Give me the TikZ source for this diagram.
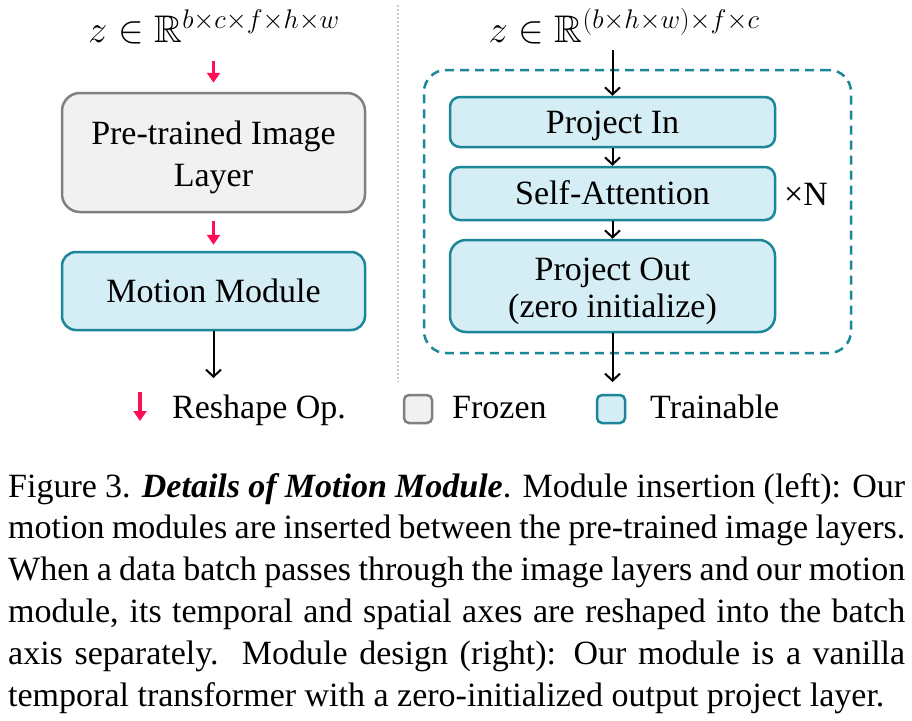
\documentclass[tikz,border=0pt]{standalone}
\usepackage{fix-cm}
\usepackage{amssymb}
\usepackage{fontspec}
\setmainfont{Liberation Serif}
\usetikzlibrary{arrows.meta}
\definecolor{frozenline}{HTML}{808080}
\definecolor{frozenfill}{HTML}{F1F1F1}
\definecolor{trainline}{HTML}{1B8798}
\definecolor{trainfill}{HTML}{D5EDF4}
\definecolor{reshapered}{HTML}{FF0D55}
\definecolor{sepgray}{HTML}{C8C8C8}
\newcommand{\tallstrut}{\rule{0pt}{34pt}}
\begin{document}
\begin{tikzpicture}[x=1pt,y=-1pt,
  big/.style={font=\fontsize{34}{42}\selectfont, inner sep=0pt},
  frozenbox/.style={draw=frozenline, fill=frozenfill, line width=2.5pt, rounded corners=18pt, big, align=center},
  trainbox/.style={draw=trainline, fill=trainfill, line width=2.5pt, rounded corners=14pt, big, align=center},
  oneline/.style={text height=29.5pt, text depth=7pt},
  reshape/.style={draw=reshapered, line width=3.5pt, -{Triangle[width=13pt,length=10pt]}},
  flow/.style={line width=2pt, -{Straight Barb[length=7pt,width=15pt,line width=2pt]}},
  capline/.style={anchor=base west, inner sep=0pt, font=\fontsize{34}{42}\selectfont},
  mathlbl/.style={anchor=base, inner sep=0pt, font=\fontsize{38.5}{44}\selectfont},
]
\useasboundingbox (0,0) rectangle (912,720);
\fill[white] (0,0) rectangle (912,720);

% separator
\draw[sepgray, line width=2pt, dotted] (398,5) -- (398,382);

% left column
\node[mathlbl] (zl) at (214,42)
  {$z\in\mathbb{R}^{b\times c\times f\times h\times w}$};
\node[frozenbox, minimum width=303pt, minimum height=119pt] (pre) at (213.5,152.5)
  {\tallstrut Pre-trained Image\\Layer};
\node[trainbox, oneline, minimum width=303pt, minimum height=78pt] (motion) at (213.5,291)
  {Motion Module};
\coordinate (mout) at (213.5,378);
\draw[reshape] ([yshift=31pt]pre.north) -- ([yshift=9pt]pre.north);
\draw[reshape] ([yshift=-8pt]pre.south) -- ([yshift=6pt]motion.north);
\draw[flow] (motion.south) -- (mout);

% right column
\node[mathlbl] (zr) at (624,42)
  {$z\in\mathbb{R}^{(b\times h\times w)\times f\times c}$};
\node[draw=trainline, line width=2.5pt, dash pattern=on 9pt off 6pt, rounded corners=22pt,
  minimum width=427pt, minimum height=283pt, inner sep=0pt] (blk) at (637.5,211.5) {};
\node[trainbox, oneline, minimum width=325pt, minimum height=50pt, rounded corners=10pt] (pin) at (612.5,122) {Project In};
\node[trainbox, oneline, minimum width=325pt, minimum height=53pt, rounded corners=10pt] (sa) at (612.5,193.5) {Self-Attention};
\node[trainbox, minimum width=325pt, minimum height=92pt, rounded corners=16pt,
  font=\fontsize{34}{37}\selectfont] (pout) at (612.5,286) {\tallstrut Project Out\\(zero initialize)};
\node[big, anchor=base west] (xn) at (784,205) {×N};
\coordinate (rin) at (612.5,50);
\coordinate (rout) at (612.5,382);
\draw[flow] (rin) -- (pin.north);
\draw[flow] (pin.south) -- (sa.north);
\draw[flow] (sa.south) -- (pout.north);
\draw[flow] (pout.south) -- (rout);

% legend
\coordinate (lr1) at (140,392);
\coordinate (lr2) at (140,421);
\draw[reshape] (lr1) -- (lr2);
\node[big, anchor=base west] (lreshape) at (172,418) {Reshape Op.};
\node[draw=frozenline, fill=frozenfill, line width=2.5pt, rounded corners=5pt, minimum size=28pt, inner sep=0pt] (lfz) at (418,409) {};
\node[big, anchor=base west] (lfrozen) at (452,418) {Frozen};
\node[draw=trainline, fill=trainfill, line width=2.5pt, rounded corners=5pt, minimum size=28pt, inner sep=0pt] (ltr) at (611,409) {};
\node[big, anchor=base west] (ltrain) at (650,418) {Trainable};

% caption
\node[capline] (c1) at (8,497) {\makebox[897pt][s]{Figure 3. \textbf{\textit{Details of Motion Module}}. Module insertion (left): Our}};
\node[capline] (c2) at (8,538.8) {\makebox[897pt][s]{motion modules are inserted between the pre-trained image layers.}};
\node[capline] (c3) at (8,580.6) {\makebox[897pt][s]{When a data batch passes through the image layers and our motion}};
\node[capline] (c4) at (8,622.4) {\makebox[897pt][s]{module, its temporal and spatial axes are reshaped into the batch}};
\node[capline] (c5) at (8,664.2) {\makebox[897pt][s]{axis separately.\ \ Module design (right): Our module is a vanilla}};
\node[capline] (c6) at (8,706) {temporal transformer with a zero-initialized output project layer.};
\end{tikzpicture}
\end{document}
